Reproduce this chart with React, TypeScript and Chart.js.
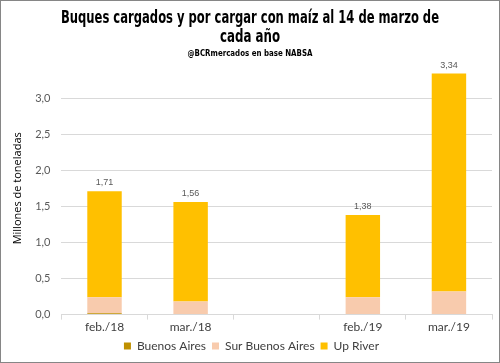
import React, { useEffect, useRef } from "react";
import { Chart, registerables } from "chart.js";

Chart.register(...registerables);

const categories = ["feb./18", "mar./18", "", "feb./19", "mar./19"];
const buenosAires = [0.02, 0, null, 0, 0];
const surBuenosAires = [0.22, 0.18, null, 0.24, 0.32];
const upRiver = [1.47, 1.38, null, 1.14, 3.02];
const totalLabels = ["1,71", "1,56", "", "1,38", "3,34"];
const titleLine1 = "Buques cargados y por cargar con maíz al 14 de marzo de";
const titleLine2 = "cada año";
const subtitleText = "@BCRmercados en base NABSA";

const totalsPlugin = {
  id: "totals",
  afterDatasetsDraw(chart: any) {
    const ctx = chart.ctx;
    const last = chart.getDatasetMeta(chart.data.datasets.length - 1);
    ctx.save();
    ctx.font = "9px 'Liberation Sans', sans-serif";
    ctx.fillStyle = "#595959";
    ctx.textAlign = "center";
    ctx.textBaseline = "bottom";
    last.data.forEach((el: any, i: number) => {
      if (!totalLabels[i]) return;
      ctx.fillText(totalLabels[i], el.x, el.y - 4);
    });
    ctx.restore();
  },
};

const headFont = "'DejaVu Sans Condensed', 'DejaVu Sans', sans-serif";
const bodyFont = "Lato, 'Open Sans', sans-serif";

const headerPlugin = {
  id: "headerText",
  afterDraw(chart: any) {
    const ctx = chart.ctx;
    const cx = chart.width / 2;
    ctx.save();
    ctx.textAlign = "center";
    ctx.textBaseline = "alphabetic";
    ctx.fillStyle = "#000000";
    ctx.font = "bold 17px " + headFont;
    ctx.fillText(titleLine1, cx, 22, 378);
    ctx.fillText(titleLine2, cx, 41, 60);
    ctx.font = "bold 9.5px " + headFont;
    ctx.fillText(subtitleText, cx, 54.5, 125);
    ctx.restore();
  },
};

export default function App() {
  const ref = useRef<HTMLCanvasElement>(null);
  useEffect(() => {
    if (!ref.current) return;
    const chart = new Chart(ref.current, {
      type: "bar",
      data: {
        labels: categories,
        datasets: [
          { label: "Buenos Aires", data: buenosAires, backgroundColor: "#BF9000" },
          { label: "Sur Buenos Aires", data: surBuenosAires, backgroundColor: "#F8CBAD" },
          { label: "Up River", data: upRiver, backgroundColor: "#FFC000" },
        ],
      },
      options: {
        animation: false,
        responsive: false,
        maintainAspectRatio: false,
        layout: { padding: { left: 10, right: 7, top: 61, bottom: 0 } },
        datasets: { bar: { categoryPercentage: 1, barPercentage: 0.4 } },
        scales: {
          x: {
            stacked: true,
            offset: true,
            grid: { offset: true, drawOnChartArea: false, drawTicks: true, tickLength: 5, color: "#d9d9d9" },
            border: { color: "#d9d9d9" },
            ticks: { color: "#404040", font: { size: 12, family: bodyFont }, padding: 0, maxRotation: 0 },
          },
          y: {
            stacked: true,
            min: 0,
            max: 3.5,
            afterBuildTicks: (axis: any) => {
              axis.ticks = axis.ticks.filter((t: any) => t.value <= 3.0001);
            },
            ticks: {
              stepSize: 0.5,
              color: "#595959",
              padding: 11,
              font: { size: 11, family: bodyFont },
              callback: (v: any) => Number(v).toFixed(1).replace(".", ","),
            },
            grid: { color: "#d9d9d9", drawTicks: false },
            border: { display: false },
            title: {
              display: true,
              text: "Millones de toneladas",
              color: "#000",
              font: { size: 11, family: "'Open Sans', sans-serif" },
              padding: { top: 0, bottom: 0 },
            },
          },
        },
        plugins: {
          title: { display: false },
          subtitle: { display: false },
          legend: {
            position: "bottom",
            labels: {
              boxWidth: 7,
              boxHeight: 7,
              color: "#404040",
              font: { size: 12, family: bodyFont },
              padding: 6,
            },
          },
          tooltip: { enabled: false },
        },
      },
      plugins: [totalsPlugin, headerPlugin],
    });
    return () => chart.destroy();
  }, []);
  return (
    <div
      style={{
        position: "fixed",
        left: 0,
        top: 0,
        width: 500,
        height: 363,
        boxSizing: "border-box",
        border: "1px solid #868686",
        background: "#fff",
      }}
    >
      <canvas ref={ref} width={498} height={361} style={{ display: "block" }} />
    </div>
  );
}
